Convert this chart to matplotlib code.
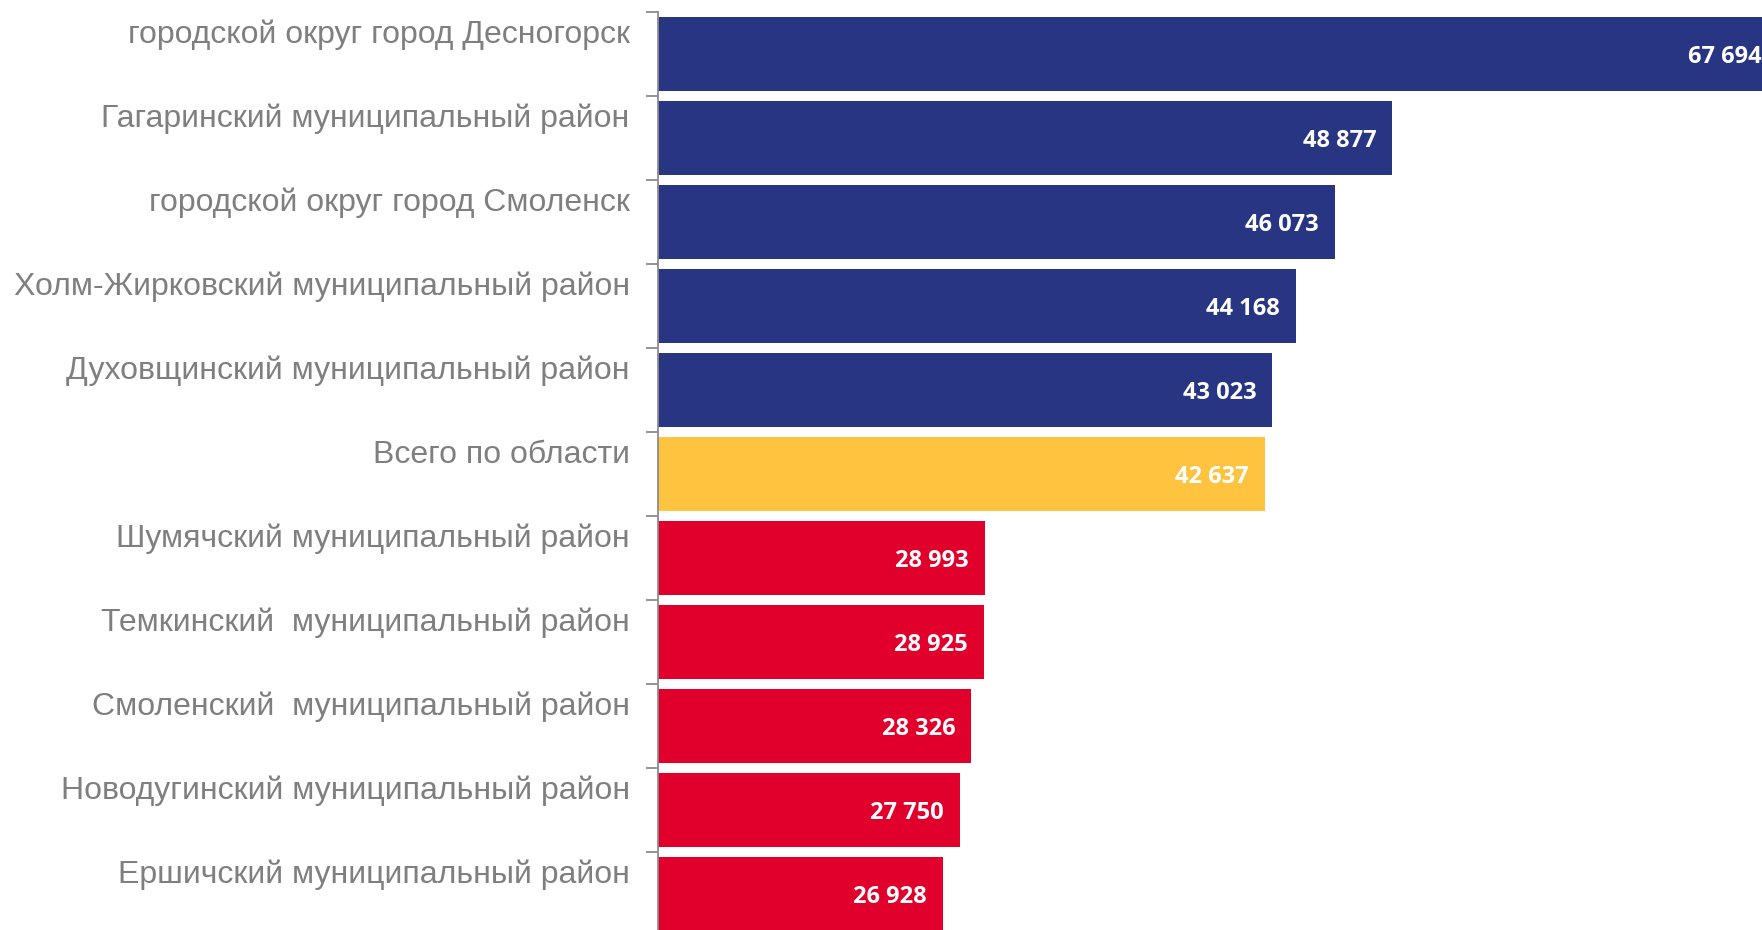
import matplotlib
matplotlib.use("Agg")
import matplotlib.pyplot as plt
import matplotlib.transforms as mtransforms
import numpy as np

categories = [
    "городской округ город Десногорск",
    "Гагаринский муниципальный район",
    "городской округ город Смоленск",
    "Холм-Жирковский муниципальный район",
    "Духовщинский муниципальный район",
    "Всего по области",
    "Шумячский муниципальный район",
    "Темкинский  муниципальный район",
    "Смоленский  муниципальный район",
    "Новодугинский муниципальный район",
    "Ершичский муниципальный район",
]
values = [67694, 48877, 46073, 44168, 43023, 42637, 28993, 28925, 28326, 27750, 26928]
groups = ["top", "top", "top", "top", "top", "total", "low", "low", "low", "low", "low"]
group_colors = {"top": "#283583", "total": "#FEC33F", "low": "#E1002B"}

W, H = 1762, 930
fig = plt.figure(figsize=(W / 100, H / 100), dpi=100)
ax_left, ax_right = 657.5, 1762
ax_top, ax_bottom = 12, 936
ax = fig.add_axes([ax_left / W, (H - ax_bottom) / H, (ax_right - ax_left) / W, (ax_bottom - ax_top) / H])

y = np.arange(len(categories))
colors = [group_colors[g] for g in groups]
ax.barh(y, values, height=0.89, color=colors, zorder=2)

ax.set_xlim(13000, 66920)
ax.set_ylim(len(categories) - 0.5, -0.5)

for spine in ["top", "right", "bottom"]:
    ax.spines[spine].set_visible(False)
ax.spines["left"].set_color("#8c8c8c")
ax.spines["left"].set_linewidth(1.3)
ax.set_xticks([])

ax.set_yticks(y)
ax.set_yticklabels(categories, fontsize=23, color="#7f7f7f", family=["Liberation Sans", "DejaVu Sans"])
ax.tick_params(axis="y", which="major", length=0, pad=20)
ax.set_yticks(np.arange(-0.5, len(categories) + 0.5, 1), minor=True)
ax.tick_params(axis="y", which="minor", length=9, width=1.3, color="#8c8c8c", direction="out")

offset = mtransforms.ScaledTranslation(0, 0.23, fig.dpi_scale_trans)
for lbl in ax.get_yticklabels():
    lbl.set_transform(lbl.get_transform() + offset)

dx = mtransforms.ScaledTranslation(-0.16, -0.03, fig.dpi_scale_trans)
for yi, v in zip(y, values):
    txt = f"{v:,}".replace(",", " ")
    ax.text(v, yi, txt, ha="right", va="center", color="white", fontsize=17,
            fontweight="bold", family=["Open Sans", "DejaVu Sans"],
            transform=ax.transData + dx, clip_on=False, zorder=3)

fig.savefig("out.png", dpi=100)
